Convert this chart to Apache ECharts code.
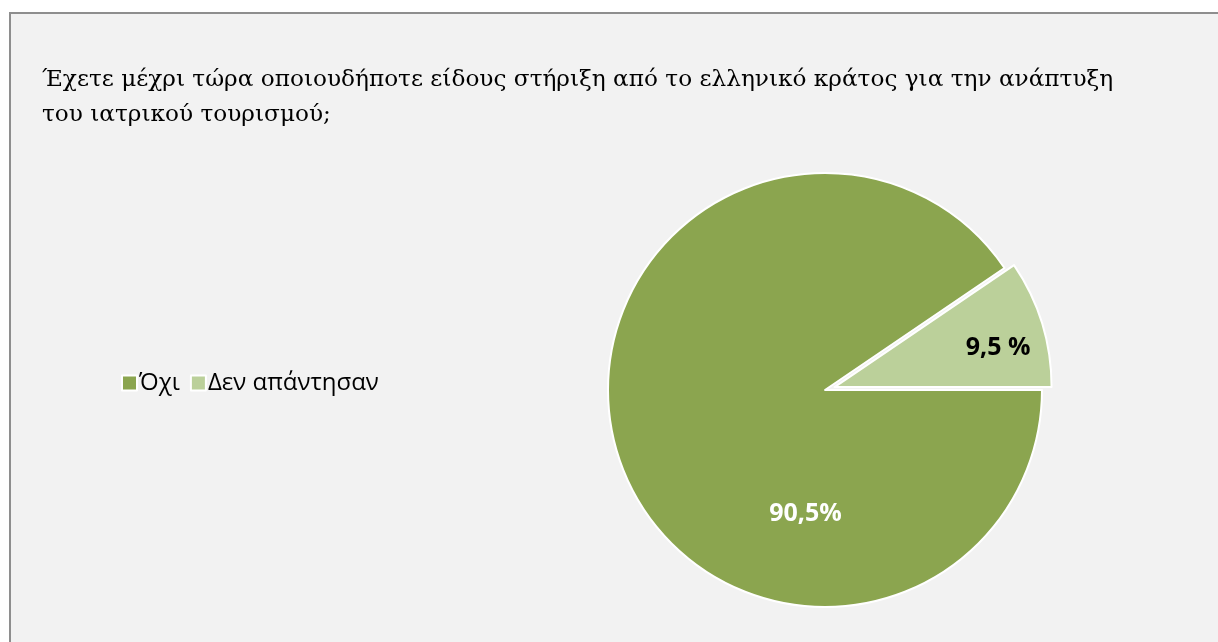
<!DOCTYPE html>
<html>
<head>
<meta charset="utf-8">
<script src="https://cdn.jsdelivr.net/npm/echarts@6/dist/echarts.min.js"></script>
<style>
  html, body { margin: 0; padding: 0; background: #ffffff; width: 1218px; height: 642px; overflow: hidden; }
  #frame { position: absolute; left: 9px; top: 12px; width: 1209px; height: 630px;
           border-left: 2px solid #8e8e8e; border-top: 2px solid #8e8e8e; background: #f2f2f2; }
  #chart { position: absolute; left: 0; top: 0; width: 1209px; height: 630px; }
</style>
</head>
<body>
<div id="frame"><div id="chart"></div></div>
<script>
// Survey answers: share of respondents (%)
const categories = ['Όχι', 'Δεν απάντησαν'];
const shares = [90.5, 9.5];
const valueLabels = ['90,5%', '9,5 %'];
const sliceColors = ['#8ba54f', '#bbd09a'];
const titleText = 'Έχετε μέχρι τώρα οποιουδήποτε είδους στήριξη από το ελληνικό κράτος για την ανάπτυξη\nτου ιατρικού τουρισμού;';

const chart = echarts.init(document.getElementById('chart'), null, { renderer: 'canvas' });

// Label shifts so the value texts sit where the slice reads best
const labelShift = [[87, 91], [57, -6]];

const data = categories.map((name, i) => {
  const lbl = { color: i === 0 ? '#ffffff' : '#000000', offset: labelShift[i] };
  return {
    name,
    value: shares[i],
    selected: i === 1,
    itemStyle: { color: sliceColors[i] },
    label: lbl,
    select: { label: lbl, itemStyle: { color: sliceColors[i] } }
  };
});

chart.setOption({
  backgroundColor: 'transparent',
  animation: false,
  title: {
    text: titleText,
    left: 26,
    top: 43,
    textStyle: {
      fontFamily: '"DejaVu Serif", "Liberation Serif", serif',
      fontWeight: 'normal',
      fontSize: 23.2,
      lineHeight: 35,
      color: '#000000'
    }
  },
  legend: {
    data: categories,
    left: 105,
    top: 352,
    orient: 'horizontal',
    itemWidth: 15,
    itemHeight: 15,
    itemGap: 10,
    icon: 'rect',
    textStyle: {
      fontFamily: '"Open Sans", "Noto Sans", sans-serif',
      fontSize: 24,
      color: '#000000',
      padding: [0, 0, 0, -3]
    }
  },
  series: [{
    type: 'pie',
    center: [814, 376],
    radius: 217,
    startAngle: 0,
    clockwise: true,
    selectedMode: 'single',
    selectedOffset: 10,
    emphasis: { disabled: true },
    itemStyle: { borderColor: '#ffffff', borderWidth: 2 },
    label: {
      show: true,
      position: 'inside',
      formatter: p => valueLabels[p.dataIndex],
      fontFamily: '"Open Sans", "Noto Sans", sans-serif',
      fontWeight: 'bold',
      fontSize: 25
    },
    labelLine: { show: false },
    data
  }]
});
</script>
</body>
</html>
